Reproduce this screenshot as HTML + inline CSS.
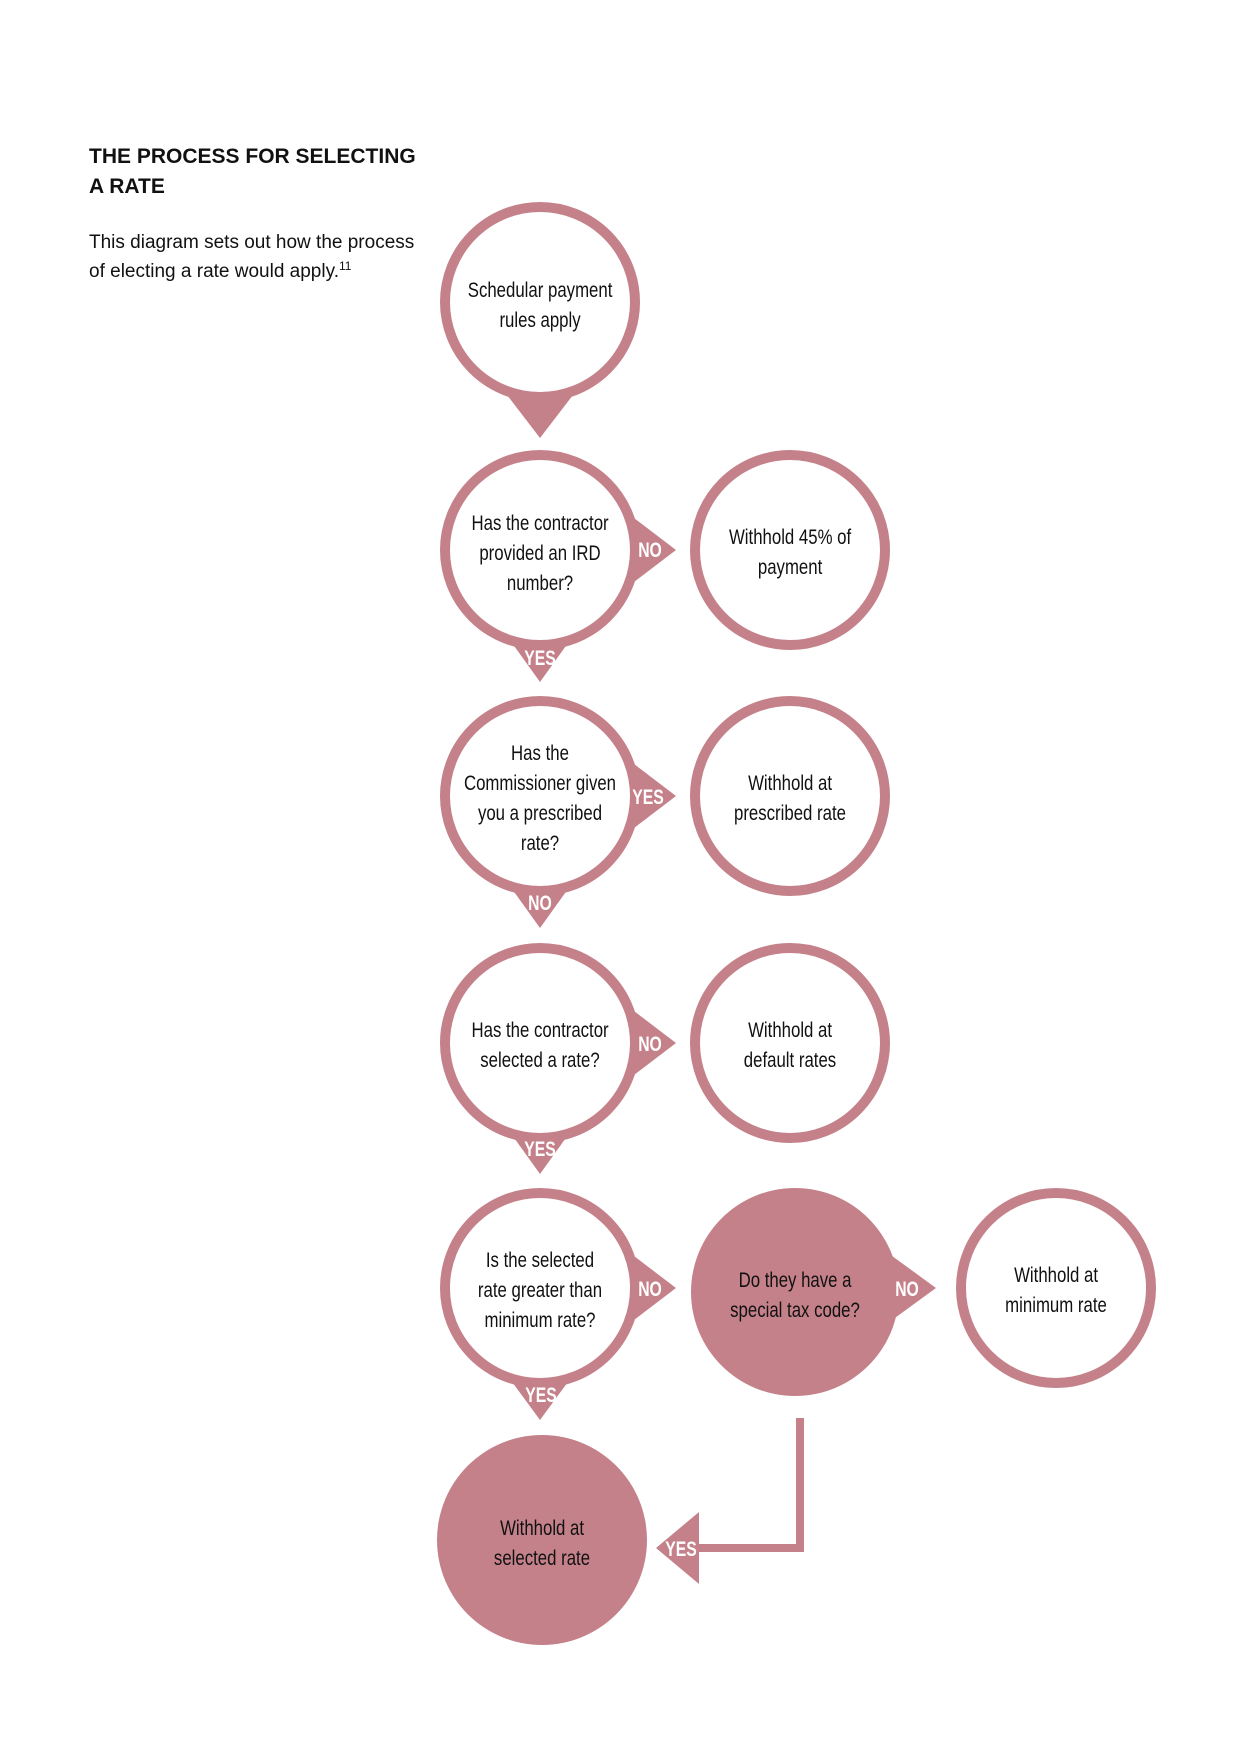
<!DOCTYPE html>
<html><head><meta charset="utf-8"><style>
html,body{margin:0;padding:0;background:#fff;}
svg{display:block;}
.t{font-family:"Liberation Sans",sans-serif;font-size:21px;fill:#111;text-anchor:middle;transform-box:fill-box;transform-origin:center;transform:scaleX(0.8);}
.l{font-family:"Liberation Sans",sans-serif;font-size:21px;font-weight:bold;fill:#fff;text-anchor:middle;transform-box:fill-box;transform-origin:center;transform:scaleX(0.75);}
</style></head><body>
<svg width="1240" height="1754" viewBox="0 0 1240 1754" xmlns="http://www.w3.org/2000/svg">
<rect width="1240" height="1754" fill="#fff"/>
<text x="89" y="163" font-family="Liberation Sans,sans-serif" font-size="21" font-weight="bold" fill="#111">THE PROCESS FOR SELECTING</text>
<text x="89" y="193" font-family="Liberation Sans,sans-serif" font-size="21" font-weight="bold" fill="#111">A RATE</text>
<text x="89" y="248" font-family="Liberation Sans,sans-serif" font-size="19" fill="#111">This diagram sets out how the process</text>
<text x="89" y="277" font-family="Liberation Sans,sans-serif" font-size="19" fill="#111">of electing a rate would apply.<tspan font-size="12" dy="-7">11</tspan></text>

<g fill="#c4818a">
<polygon points="507,395 573,395 540,438"/>
<polygon points="630,515 630,585 676,550"/>
<polygon points="507,636 573,636 540,682"/>
<polygon points="630,761 630,831 676,796"/>
<polygon points="507,882 573,882 540,928"/>
<polygon points="630,1008 630,1078 676,1043"/>
<polygon points="507,1128 573,1128 540,1174"/>
<polygon points="630,1253 630,1323 676,1288"/>
<polygon points="507,1375 573,1375 540,1420"/>
<polygon points="888,1253 888,1323 936,1288"/>
<rect x="796" y="1418" width="8" height="134"/>
<rect x="690" y="1544" width="114" height="8"/>
<polygon points="699,1512 699,1584 656,1548"/>
<circle cx="795" cy="1292" r="104"/>
<circle cx="542" cy="1540" r="105"/>
</g>
<g fill="#fff" stroke="#c4818a" stroke-width="10">
<circle cx="540" cy="302" r="95"/>
<circle cx="540" cy="550" r="95"/>
<circle cx="790" cy="550" r="95"/>
<circle cx="540" cy="796" r="95"/>
<circle cx="790" cy="796" r="95"/>
<circle cx="540" cy="1043" r="95"/>
<circle cx="790" cy="1043" r="95"/>
<circle cx="540" cy="1288" r="95"/>
<circle cx="1056" cy="1288" r="95"/>
</g>

<text class="t" x="540" y="297">Schedular payment</text>
<text class="t" x="540" y="327">rules apply</text>

<text class="t" x="540" y="530">Has the contractor</text>
<text class="t" x="540" y="560">provided an IRD</text>
<text class="t" x="540" y="590">number?</text>
<text class="t" x="790" y="544">Withhold 45% of</text>
<text class="t" x="790" y="574">payment</text>

<text class="t" x="540" y="760">Has the</text>
<text class="t" x="540" y="790">Commissioner given</text>
<text class="t" x="540" y="820">you a prescribed</text>
<text class="t" x="540" y="850">rate?</text>
<text class="t" x="790" y="790">Withhold at</text>
<text class="t" x="790" y="820">prescribed rate</text>

<text class="t" x="540" y="1037">Has the contractor</text>
<text class="t" x="540" y="1067">selected a rate?</text>
<text class="t" x="790" y="1037">Withhold at</text>
<text class="t" x="790" y="1067">default rates</text>

<text class="t" x="540" y="1267">Is the selected</text>
<text class="t" x="540" y="1297">rate greater than</text>
<text class="t" x="540" y="1327">minimum rate?</text>
<text class="t" x="795" y="1287">Do they have a</text>
<text class="t" x="795" y="1317">special tax code?</text>
<text class="t" x="1056" y="1282">Withhold at</text>
<text class="t" x="1056" y="1312">minimum rate</text>

<text class="t" x="542" y="1535">Withhold at</text>
<text class="t" x="542" y="1565">selected rate</text>

<text class="l" x="650" y="557">NO</text>
<text class="l" x="540" y="665">YES</text>
<text class="l" x="648" y="804">YES</text>
<text class="l" x="540" y="910">NO</text>
<text class="l" x="650" y="1051">NO</text>
<text class="l" x="540" y="1156">YES</text>
<text class="l" x="650" y="1296">NO</text>
<text class="l" x="541" y="1402">YES</text>
<text class="l" x="907" y="1296">NO</text>
<text class="l" x="681" y="1556">YES</text>
</svg>
</body></html>
